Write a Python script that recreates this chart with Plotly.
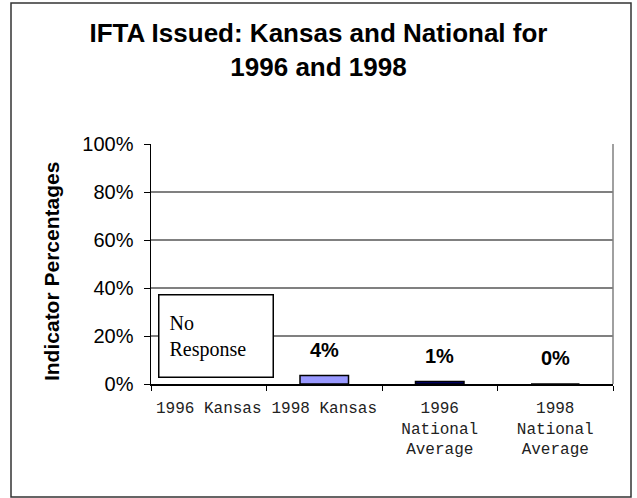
import plotly.graph_objects as go

categories = ["1996 Kansas", "1998 Kansas", "1996 National Average", "1998 National Average"]
tick_labels = ["1996 Kansas", "1998 Kansas", "1996<br>National<br>Average", "1998<br>National<br>Average"]
values = [None, 3.5, 1.0, 0.0]
bar_colors = ["#9999FF", "#9999FF", "#000080", "#9999FF"]
title_text = "IFTA Issued: Kansas and National for<br>1996 and 1998"
y_title = "Indicator Percentages"
no_response_text = "No<br>Response"

fig = go.Figure()
fig.add_trace(go.Bar(
    x=categories,
    y=values,
    width=0.42,
    marker=dict(color=bar_colors, line=dict(color="black", width=1.5)),
    hoverinfo="skip",
))

annotations = []
for cat, v in zip(categories, values):
    if v is None:
        continue
    annotations.append(dict(
        x=cat, y=v, xref="x", yref="y",
        text=f"<b>{round(v)}%</b>", showarrow=False,
        yanchor="middle", yshift=26,
        font=dict(family="Arial, Liberation Sans", size=20, color="black"),
    ))

annotations.append(dict(
    x=categories[0], y=20, xref="x", yref="y",
    text=no_response_text, showarrow=False,
    xshift=7, align="left", valign="middle",
    width=93, height=61, borderpad=10, borderwidth=1.5, bordercolor="black",
    bgcolor="white",
    font=dict(family="Liberation Serif, Times New Roman", size=20, color="black"),
))

annotations.append(dict(
    x=-0.214, y=0.467, xref="paper", yref="paper",
    text=f"<b>{y_title}</b>", showarrow=False, textangle=-90,
    xanchor="center", yanchor="middle",
    font=dict(family="Arial, Liberation Sans", size=21, color="black"),
))

fig.update_layout(
    width=637, height=498,
    margin=dict(l=151, r=24, t=144, b=114),
    paper_bgcolor="white", plot_bgcolor="white",
    showlegend=False,
    title=dict(
        text=f"<b>{title_text}</b>",
        x=0.5, xref="container", xanchor="center",
        y=1 - 42 / 498, yref="container", yanchor="middle",
        font=dict(family="Arial, Liberation Sans", size=26, color="black"),
    ),
    annotations=annotations,
    shapes=[
        dict(type="line", xref="paper", yref="paper", x0=1, x1=1, y0=0, y1=1,
             line=dict(color="#808080", width=1.5)),
        dict(type="rect", xref="paper", yref="paper",
             x0=(11 - 151) / 462, x1=(631 - 151) / 462,
             y0=(384 - 497) / 240, y1=(384 - 3) / 240,
             line=dict(color="#333333", width=1.5), fillcolor="rgba(0,0,0,0)"),
    ],
)

fig.update_xaxes(
    tickmode="array", tickvals=categories, ticktext=tick_labels,
    showline=True, linecolor="black", linewidth=1.5,
    ticks="outside", tickson="boundaries", ticklen=5, tickcolor="black",
    ticklabelstandoff=8,
    showgrid=False,
    tickfont=dict(family="Liberation Mono, Courier New", size=16, color="#222222"),
)
fig.update_yaxes(
    range=[0, 100], dtick=20, ticksuffix="%",
    showline=True, linecolor="black", linewidth=1.5,
    ticks="outside", ticklen=6, tickcolor="black",
    ticklabelstandoff=6,
    showgrid=True, gridcolor="#808080", gridwidth=1.5,
    zeroline=False,
    tickfont=dict(family="Arial, Liberation Sans", size=20, color="black"),
)

fig.write_html(
    "out.html",
    config={"displayModeBar": False, "staticPlot": True},
    post_script="document.body.style.margin='0';document.body.style.overflow='hidden';",
)
